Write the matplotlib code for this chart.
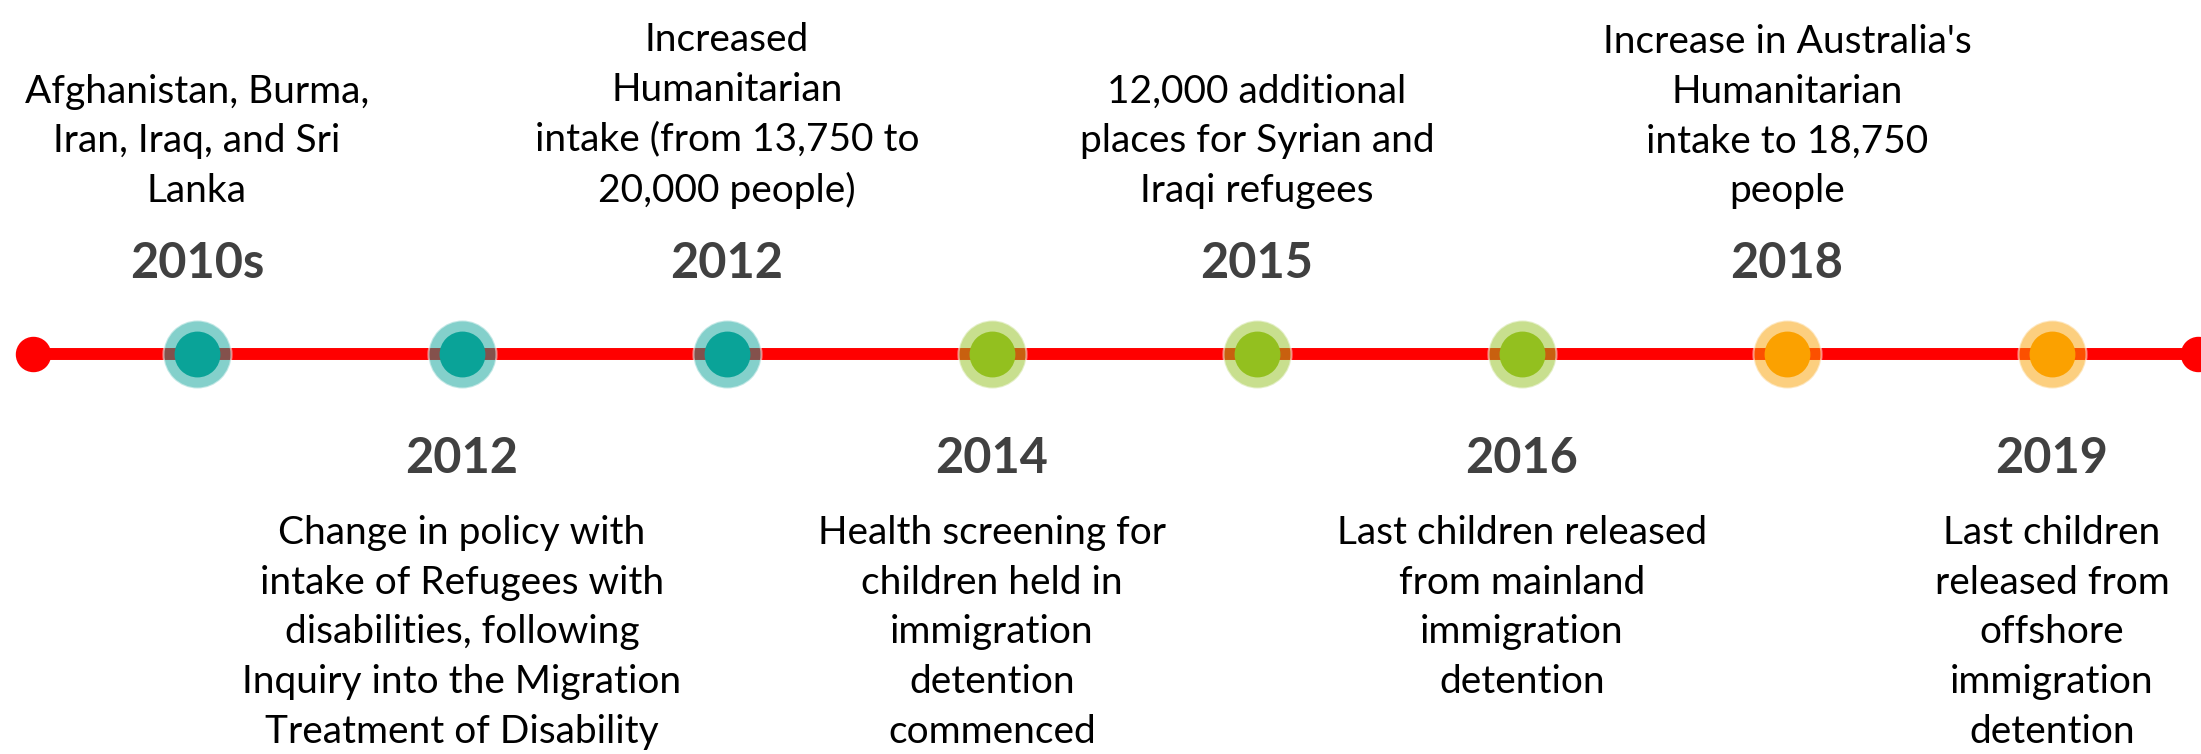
import numpy as np
import matplotlib
matplotlib.use("Agg")
import matplotlib.pyplot as plt

plt.rcParams['font.family'] = ['Lato', 'DejaVu Sans']

# timeline data
years = ["2010s", "2012", "2012", "2014", "2015", "2016", "2018", "2019"]
events = [
	"Afghanistan, Burma,\nIran, Iraq, and Sri\nLanka",
	"Change in policy with\nintake of Refugees with\ndisabilities, following\nInquiry into the Migration\nTreatment of Disability",
	"Increased\nHumanitarian\nintake (from 13,750 to\n20,000 people)",
	"Health screening for\nchildren held in\nimmigration\ndetention\ncommenced",
	"12,000 additional\nplaces for Syrian and\nIraqi refugees",
	"Last children released\nfrom mainland\nimmigration\ndetention",
	"Increase in Australia's\nHumanitarian\nintake to 18,750\npeople",
	"Last children\nreleased from\noffshore\nimmigration\ndetention",
]
dot_colors = ["#0aa398", "#0aa398", "#0aa398", "#93c01f", "#93c01f", "#93c01f", "#fba100", "#fba100"]
line_ends = [-0.62, 7.55]

fig = plt.figure(figsize=(22.01, 7.54), dpi=100)
ax = fig.add_axes([0, 0, 1, 1])
ax.set_xlim(-0.743, 7.562)
ax.set_ylim(-400, 354)
ax.axis("off")

# main line and end caps
ax.plot(line_ends, [0, 0], color="#ff0000", lw=8.6, zorder=1, solid_capstyle="butt")
ax.plot(line_ends, [0, 0], "o", color="#ff0000", ms=24.5, zorder=1)

x = np.arange(len(years))
for i in range(len(years)):
	ax.plot(x[i], 0, "o", ms=49, color=dot_colors[i], alpha=0.5, mec="white", mew=1.5, zorder=2)
	ax.plot(x[i], 0, "o", ms=33, color=dot_colors[i], mew=0, zorder=3)
	if i % 2 == 0:
		ax.text(x[i], 91, years[i], ha="center", va="center", fontsize=35, fontweight="bold", color="#404040")
		ax.text(x[i], 145, events[i], ha="center", va="bottom", fontsize=28, color="black", linespacing=1.47)
	else:
		ax.text(x[i], -104, years[i], ha="center", va="center", fontsize=35, fontweight="bold", color="#404040")
		ax.text(x[i], -161, events[i], ha="center", va="top", fontsize=28, color="black", linespacing=1.47)

plt.savefig("out.png", dpi=100)
